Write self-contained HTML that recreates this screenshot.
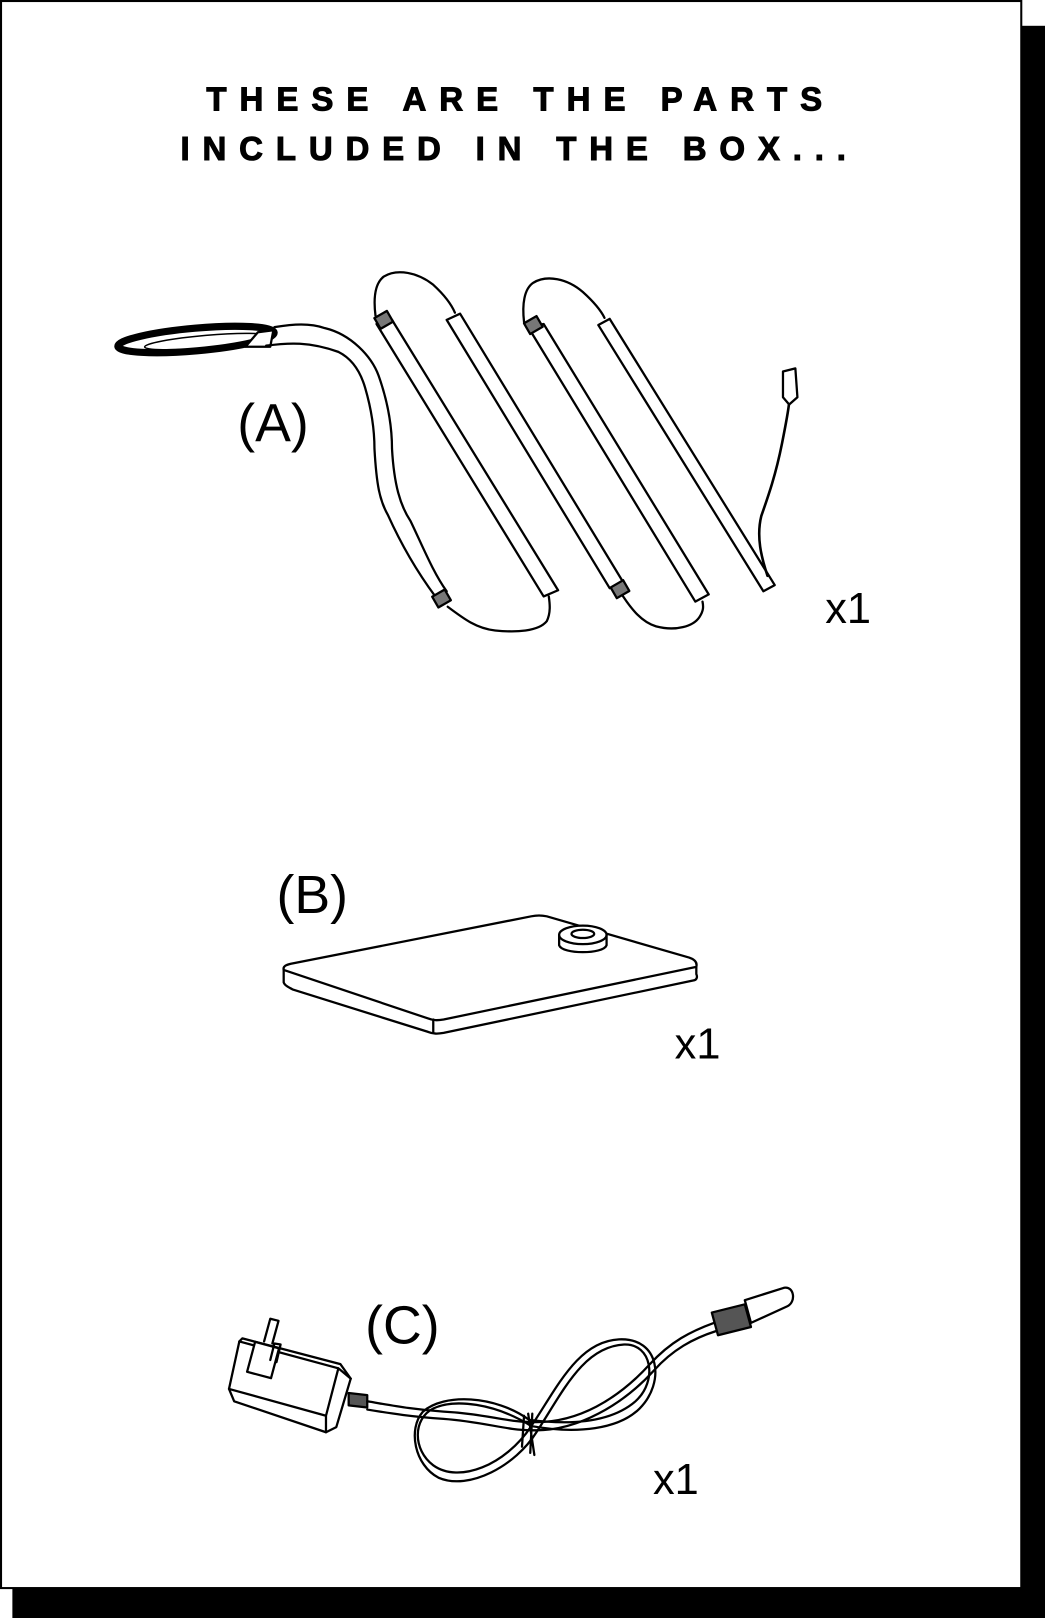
<!DOCTYPE html>
<html><head><meta charset="utf-8"><style>
html,body{margin:0;padding:0;background:#fff}
svg{display:block}
</style></head><body>
<svg width="1045" height="1618" viewBox="0 0 1013 1568" preserveAspectRatio="none" xmlns="http://www.w3.org/2000/svg">
<rect x="12" y="25" width="1001" height="1543" fill="#000"/>
<rect x="1" y="1" width="989" height="1538" fill="#fff" stroke="#000" stroke-width="2"/>
<g font-family="Liberation Sans, sans-serif" font-weight="bold" font-size="32" fill="#000" stroke="#000" stroke-width="1">
<text x="200" y="107" textLength="597" lengthAdjust="spacing">THESE ARE THE PARTS</text>
<text x="175" y="155" textLength="645" lengthAdjust="spacing">INCLUDED IN THE BOX...</text>
</g>
<g font-family="Liberation Sans, sans-serif" fill="#000" font-weight="normal">
<text x="230" y="428" font-size="52">(A)</text>
<text x="800" y="604" font-size="42">x1</text>
<text x="268" y="885" font-size="52">(B)</text>
<text x="654" y="1026" font-size="42">x1</text>
<text x="354" y="1302" font-size="52">(C)</text>
<text x="633" y="1448" font-size="42">x1</text>
</g>
<g fill="none" stroke="#000" stroke-width="2.2" stroke-linejoin="round" stroke-linecap="round">
<ellipse cx="190" cy="329" rx="76" ry="11" transform="rotate(-5 190 329)" stroke-width="7"/>
<ellipse cx="200" cy="331" rx="60" ry="6" transform="rotate(-5 200 331)" stroke-width="1.5"/>
<path d="M238 336 L250 322 L265 320 L262 336 Z" fill="#fff"/>
<path d="M266 317 C285 314 300 313 315 318 C340 324 360 345 367 364 C378 395 380 420 380 435 C382 470 388 490 398 505 C410 530 420 555 433 573"/>
<path d="M258 335 C280 332 300 331 328 341 C342 348 350 362 354 376 C361 400 363 420 363 435 C365 470 368 485 376 499 C390 530 405 555 422 578"/>
<rect x="421" y="574" width="14" height="12" transform="rotate(-30 428 580)" fill="#777"/>
<path d="M434 588 C450 600 462 609 480 611 C500 613 522 612 530 602 C534 594 533 585 532 578"/>
<polygon points="365,314 380,310 541,572 527,578" fill="#fff"/>
<polygon points="433,310 446,304 604,564 591,570" fill="#fff"/>
<polygon points="512,317 527,314 687,576 674,583" fill="#fff"/>
<polygon points="580,315 591,309 751,567 740,573" fill="#fff"/>
<rect x="365" y="304" width="14" height="12" transform="rotate(-30 372 310)" fill="#777"/>
<rect x="510" y="309" width="14" height="12" transform="rotate(-30 517 315)" fill="#777"/>
<rect x="594" y="565" width="14" height="12" transform="rotate(-30 601 571)" fill="#777"/>
<path d="M364 306 C362 290 363 275 372 268 C385 260 405 264 420 276 C432 287 438 296 441 303"/>
<path d="M508 312 C506 295 508 280 517 274 C530 266 550 270 565 283 C575 292 582 300 586 308"/>
<path d="M604 578 C612 590 622 603 636 607 C655 612 672 607 678 598 C682 592 682 588 681 583"/>
<path d="M744 558 C738 540 733 520 738 500 C745 480 752 460 758 430 C762 410 764 400 765 390" stroke-width="2.5"/>
<path d="M759 360 L771 357 L773 385 L765 392 L759 385 Z" fill="#fff"/>
<path d="M275 940 C274 936 278 935 282 934 L515 888 C520 887 525 887 530 888 L668 928 C674 930 676 933 675 937 L430 988 C424 989 420 989 415 987 Z" fill="#fff"/>
<path d="M275 940 L275 952 C276 955 280 957 284 959 L415 1000 C420 1002 424 1002 430 1001 L673 950 C676 949 676 946 675 944 L675 937"/>
<path d="M420 988 L420 1001"/>
<path d="M542 906 L542 916 C545 925 585 925 588 916 L588 906" fill="#fff"/>
<ellipse cx="565" cy="906" rx="23" ry="9" fill="#fff"/>
<ellipse cx="565" cy="905" rx="11" ry="4"/>
<path d="M235 1297 L330 1322 L340 1336 L326 1383 L316 1388 L227 1358 L222 1346 L232 1300 Z" fill="#fff"/>
<path d="M232 1300 L328 1326 L340 1336 M328 1326 L316 1372 L316 1388 M316 1372 L222 1346"/>
<rect x="243" y="1303" width="24" height="30" transform="rotate(15 255 1318)" fill="#fff"/>
<path d="M256 1300 L262 1278 L270 1280 L264 1302 M262 1318 L266 1302 L272 1303 L268 1320"/>
<path d="M338 1350 L356 1352 L356 1364 L338 1362 Z" fill="#555"/>
<path d="M356 1358 C380 1362 400 1366 430 1368 C470 1370 490 1378 515 1378 C560 1380 600 1355 630 1322 C650 1300 670 1290 692 1282"/>
<path d="M356 1366 C380 1370 400 1373 430 1375 C470 1378 490 1386 515 1386 C560 1388 605 1360 634 1328 C652 1308 672 1297 694 1290"/>
<path d="M515 1382 C480 1360 440 1355 420 1365 C400 1375 400 1405 420 1420 C445 1438 490 1420 515 1382 C540 1345 560 1300 600 1298 C640 1296 645 1340 620 1365 C600 1385 560 1390 515 1382"/>
<path d="M513 1376 C480 1352 430 1350 410 1368 C395 1385 402 1420 425 1432 C455 1445 500 1420 520 1388 C545 1350 565 1305 605 1303 C632 1302 638 1338 616 1358 C595 1376 560 1382 513 1376"/>
<path d="M512 1370 L518 1410 M516 1370 L514 1408 M508 1372 L506 1402"/>
<path d="M690 1272 L722 1264 L728 1286 L696 1294 Z" fill="#555"/>
<path d="M722 1260 L760 1248 C770 1246 772 1262 763 1266 L728 1282 Z" fill="#fff"/>
</g>
</svg>
</body></html>
